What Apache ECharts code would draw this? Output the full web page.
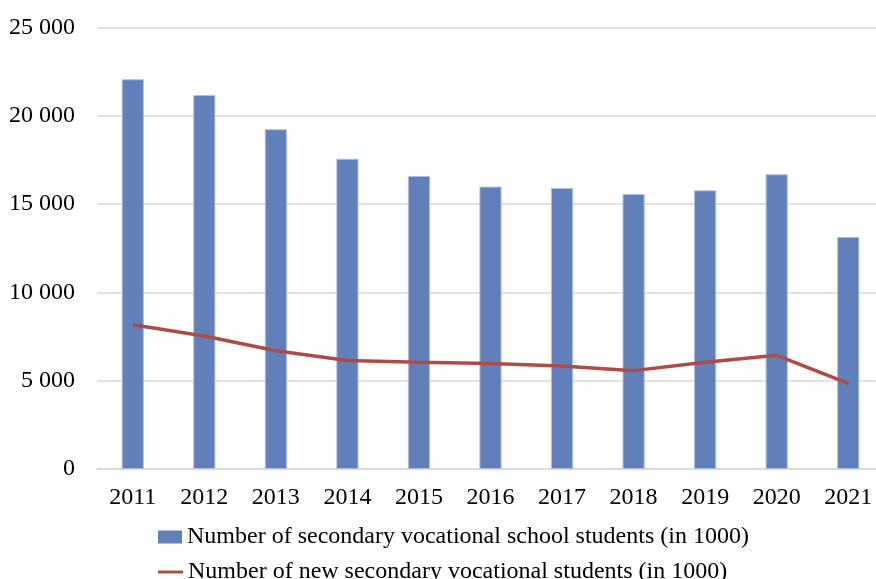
<!DOCTYPE html>
<html>
<head>
<meta charset="utf-8">
<script src="https://cdn.jsdelivr.net/npm/echarts@6/dist/echarts.min.js"></script>
<style>html,body{margin:0;padding:0;background:#fff}#c{width:876px;height:579px}</style>
</head>
<body>
<div id="c"></div>
<script>
const years = ['2011','2012','2013','2014','2015','2016','2017','2018','2019','2020','2021'];
const students = [22070, 21180, 19240, 17570, 16590, 15990, 15910, 15570, 15780, 16690, 13140];
const newStudents = [8170, 7530, 6700, 6150, 6040, 5970, 5830, 5570, 6040, 6440, 4850];
const barName = 'Number of secondary vocational school students (in 1000)';
const lineName = 'Number of new secondary vocational students (in 1000)';

const font = '"Liberation Serif", "Times New Roman", serif';
const legendText = {fontFamily: font, fontSize: 24, color: '#000', lineHeight: 24};
const chart = echarts.init(document.getElementById('c'), null, {renderer: 'canvas'});
chart.setOption({
  animation: false,
  textStyle: {fontFamily: font},
  grid: {left: 97, top: 27.5, right: -8, bottom: 110, containLabel: false, outerBoundsMode: 'none'},
  legend: [
    {orient: 'horizontal', left: 153, top: 520, itemWidth: 24, itemHeight: 13,
     textStyle: legendText, data: [{name: barName, icon: 'rect', itemStyle: {borderWidth: 0}}]},
    {orient: 'horizontal', left: 153, top: 555, itemWidth: 25, itemHeight: 3,
     textStyle: legendText, data: [{name: lineName, icon: 'rect', itemStyle: {color: '#AE4B48'}}]}
  ],
  xAxis: {
    type: 'category', data: years,
    axisLine: {lineStyle: {color: '#d9d9d9', width: 1.5}},
    axisTick: {show: false},
    axisLabel: {fontFamily: font, fontSize: 24, color: '#000', margin: 17}
  },
  yAxis: {
    type: 'value', min: 0, max: 25000, interval: 5000,
    axisLine: {show: false}, axisTick: {show: false},
    splitLine: {lineStyle: {color: '#d9d9d9', width: 1.5}},
    axisLabel: {fontFamily: font, fontSize: 24, color: '#000', margin: 22,
      formatter: v => String(v).replace(/\B(?=(\d{3})+(?!\d))/g, ' ')}
  },
  series: [
    {name: barName, type: 'bar', data: students, barWidth: '31%',
     itemStyle: {color: '#6180BA', borderColor: '#aebfe0', borderWidth: 1}},
    {name: lineName, type: 'line', data: newStudents, showSymbol: false, symbol: 'none',
     lineStyle: {color: '#AE4B48', width: 3.5}, itemStyle: {color: '#AE4B48'}}
  ]
});
</script>
</body>
</html>
